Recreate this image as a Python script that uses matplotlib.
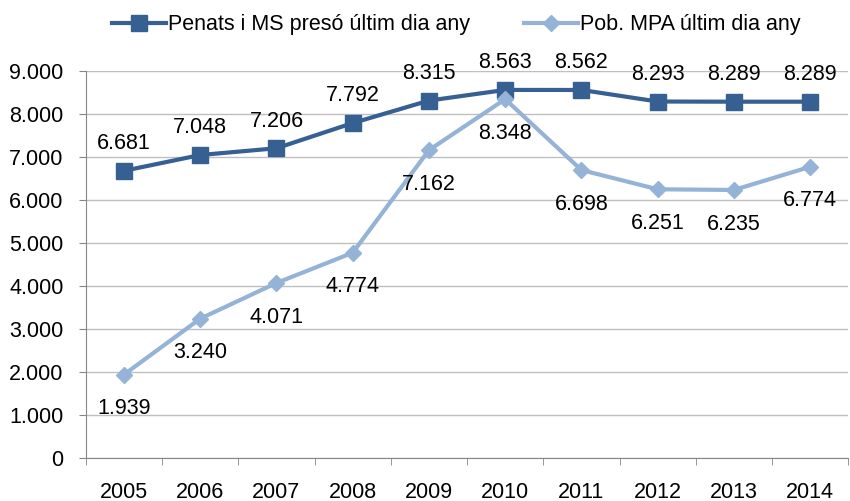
import matplotlib.pyplot as plt
from matplotlib.ticker import FuncFormatter

plt.rcParams['font.family'] = ['Liberation Sans', 'DejaVu Sans']

years = ['2005', '2006', '2007', '2008', '2009', '2010', '2011', '2012', '2013', '2014']
penats = [6681, 7048, 7206, 7792, 8315, 8563, 8562, 8293, 8289, 8289]
pob_mpa = [1939, 3240, 4071, 4774, 7162, 8348, 6698, 6251, 6235, 6774]

dark = '#376092'
light = '#95b3d7'

fig = plt.figure(figsize=(8.5, 5.01), dpi=100)
ax = fig.add_axes([0.101, 0.086, 0.897, 0.772])

x = range(len(years))
ax.plot(x, penats, color=dark, lw=3, marker='s', ms=11, label='Penats i MS presó últim dia any', zorder=3)
ax.plot(x, pob_mpa, color=light, lw=3, marker='D', ms=8.5, label='Pob. MPA últim dia any', zorder=3)

def fmt(v):
    return f'{v:,}'.replace(',', '.')

for i, v in enumerate(penats):
    ax.annotate(fmt(v), (i, v), xytext=(0, 12), textcoords='offset points',
                ha='center', va='bottom', fontsize=15.5)
for i, v in enumerate(pob_mpa):
    ax.annotate(fmt(v), (i, v), xytext=(0, -17), textcoords='offset points',
                ha='center', va='top', fontsize=15.5)

ax.set_xlim(-0.5, len(years) - 0.5)
ax.set_ylim(0, 9000)
ax.set_yticks(range(0, 9001, 1000))
ax.yaxis.set_major_formatter(FuncFormatter(lambda v, p: fmt(int(v))))
ax.set_xticks(list(x))
ax.set_xticklabels(years)
ax.set_xticks([i - 0.5 for i in range(len(years) + 1)], minor=True)
ax.tick_params(axis='x', which='major', length=0, pad=17, labelsize=15.5)
ax.tick_params(axis='x', which='minor', length=5, color='#868686')
ax.tick_params(axis='y', length=5, color='#868686', labelsize=15.5, pad=11)
ax.grid(axis='y', color='#bfbfbf', lw=1)
ax.set_axisbelow(True)
for s in ['top', 'right']:
    ax.spines[s].set_visible(False)
for s in ['left', 'bottom']:
    ax.spines[s].set_color('#868686')

fig.legend(loc='upper center', bbox_to_anchor=(0.537, 1.01), ncol=2, frameon=False,
           fontsize=15.5, handlelength=2.5, columnspacing=2.5, handletextpad=0.1)

fig.savefig('out.png', dpi=100)
